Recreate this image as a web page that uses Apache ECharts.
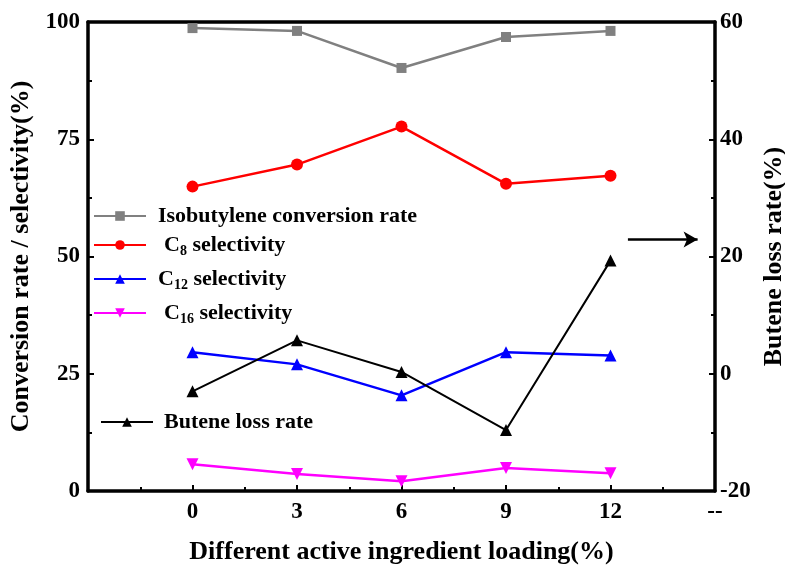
<!DOCTYPE html>
<html>
<head>
<meta charset="utf-8">
<script src="https://cdn.jsdelivr.net/npm/echarts@6/dist/echarts.min.js"></script>
<style>
  html, body { margin: 0; padding: 0; background: #fff; }
  #chart { width: 785px; height: 569px; }
</style>
</head>
<body>
<div id="chart"></div>
<script>
// Active ingredient loading (%)
const loading = [0, 3, 6, 9, 12];
// Left axis series (%)
const isobutyleneConversion = [98.7, 98.1, 90.2, 96.8, 98.1];
const c8Selectivity = [64.9, 69.6, 77.7, 65.5, 67.2];
const c12Selectivity = [29.6, 27.0, 20.4, 29.6, 28.9];
const c16Selectivity = [5.7, 3.6, 2.1, 4.9, 3.8];
// Right axis series (%)
const buteneLoss = [-3.0, 5.7, 0.3, -9.6, 19.3];

const FONT = "'Liberation Serif', 'Times New Roman', serif";

const pair = (vals) => loading.map((x, i) => [x, vals[i]]);

function richFor(padLeft) {
  return {
    base: { fontFamily: FONT, fontWeight: 'bold', fontSize: 22, lineHeight: 24, color: '#000' },
    lead: { fontFamily: FONT, fontWeight: 'bold', fontSize: 22, lineHeight: 24, color: '#000', padding: [0, 0, 0, padLeft] },
    sub: { fontFamily: FONT, fontWeight: 'bold', fontSize: 14, lineHeight: 24, color: '#000', padding: [12, 0, 0, 0] }
  };
}

function legendFor(name, left, top, padLeft, text, iconW) {
  return {
    data: [name],
    left: left,
    top: top,
    itemWidth: iconW,
    itemHeight: 12,
    selectedMode: false,
    textStyle: { fontFamily: FONT, fontWeight: 'bold', fontSize: 22, color: '#000', rich: richFor(padLeft) },
    formatter: () => text
  };
}

const chart = echarts.init(document.getElementById('chart'), null, { renderer: 'canvas' });

const axisText = { fontFamily: FONT, fontWeight: 'bold', fontSize: 23, color: '#000' };
const nameText = { fontFamily: FONT, fontWeight: 'bold', fontSize: 26, color: '#000' };
const tickStyle = { show: true, inside: true, length: 6, lineStyle: { color: '#000', width: 2 } };
const minorStyle = { show: true, splitNumber: 2, length: 4, lineStyle: { color: '#000', width: 2 } };
const lineAxis = { show: true, onZero: false, lineStyle: { color: '#000', width: 3.5 } };

chart.setOption({
  animation: false,
  backgroundColor: '#fff',
  grid: { left: 88, right: 70, top: 22, bottom: 78, containLabel: false, outerBoundsMode: 'none' },
  legend: [
    legendFor('Isobutylene conversion rate', 88, 200, 7, '{lead|Isobutylene conversion rate}', 52),
    legendFor('C8 selectivity', 88, 227, 13, '{lead|C}{sub|8}{base| selectivity}', 52),
    legendFor('C12 selectivity', 88, 261, 7, '{lead|C}{sub|12}{base| selectivity}', 52),
    legendFor('C16 selectivity', 88, 295, 13, '{lead|C}{sub|16}{base| selectivity}', 52),
    legendFor('Butene loss rate', 95, 406, 6, '{lead|Butene loss rate}', 52)
  ],
  xAxis: [
    {
      type: 'value',
      min: -3,
      max: 15,
      interval: 3,
      name: 'Different active ingredient loading(%)',
      nameLocation: 'middle',
      nameGap: 48,
      nameTextStyle: nameText,
      axisLine: lineAxis,
      axisTick: tickStyle,
      minorTick: minorStyle,
      axisLabel: {
        ...axisText,
        margin: 10,
        formatter: (v) => (v === -3 ? '' : v === 15 ? '--' : String(v))
      },
      splitLine: { show: false }
    },
    {
      type: 'value',
      position: 'top',
      min: -3,
      max: 15,
      axisLine: lineAxis,
      axisTick: { show: false },
      axisLabel: { show: false },
      splitLine: { show: false }
    }
  ],
  yAxis: [
    {
      type: 'value',
      min: 0,
      max: 100,
      interval: 25,
      name: 'Conversion rate / selectivity(%)',
      nameLocation: 'middle',
      nameGap: 51,
      nameTextStyle: nameText,
      axisLine: lineAxis,
      axisTick: tickStyle,
      minorTick: minorStyle,
      axisLabel: { ...axisText, margin: 8 },
      splitLine: { show: false }
    },
    {
      type: 'value',
      min: -20,
      max: 60,
      interval: 20,
      position: 'right',
      name: 'Butene loss rate(%)',
      nameLocation: 'middle',
      nameGap: 42,
      nameRotate: 90,
      nameTextStyle: nameText,
      axisLine: lineAxis,
      axisTick: tickStyle,
      minorTick: minorStyle,
      axisLabel: { ...axisText, margin: 5 },
      splitLine: { show: false }
    }
  ],
  series: [
    {
      name: 'Isobutylene conversion rate',
      type: 'line',
      data: pair(isobutyleneConversion),
      symbol: 'rect',
      symbolSize: 10,
      color: '#808080',
      lineStyle: { width: 2.5, color: '#808080' },
      itemStyle: { color: '#808080' }
    },
    {
      name: 'C8 selectivity',
      type: 'line',
      data: pair(c8Selectivity),
      symbol: 'circle',
      symbolSize: 12,
      color: '#ff0000',
      lineStyle: { width: 2.5, color: '#ff0000' },
      itemStyle: { color: '#ff0000' }
    },
    {
      name: 'C12 selectivity',
      type: 'line',
      data: pair(c12Selectivity),
      symbol: 'triangle',
      symbolSize: 12,
      color: '#0000ff',
      lineStyle: { width: 2.5, color: '#0000ff' },
      itemStyle: { color: '#0000ff' }
    },
    {
      name: 'C16 selectivity',
      type: 'line',
      data: pair(c16Selectivity),
      symbol: 'triangle',
      symbolRotate: 180,
      symbolSize: 12,
      color: '#ff00ff',
      lineStyle: { width: 2.5, color: '#ff00ff' },
      itemStyle: { color: '#ff00ff' }
    },
    {
      name: 'Butene loss rate',
      type: 'line',
      yAxisIndex: 1,
      data: pair(buteneLoss),
      symbol: 'triangle',
      symbolSize: 12,
      color: '#000',
      lineStyle: { width: 2, color: '#000' },
      itemStyle: { color: '#000' },
      markLine: {
        silent: true,
        symbol: ['none', 'arrow'],
        symbolSize: [12, 14],
        label: { show: false },
        lineStyle: { color: '#000', width: 2.5, type: 'solid' },
        data: [[{ coord: [12.5, 22.9] }, { coord: [14.5, 22.9] }]]
      }
    }
  ]
});
</script>
</body>
</html>
